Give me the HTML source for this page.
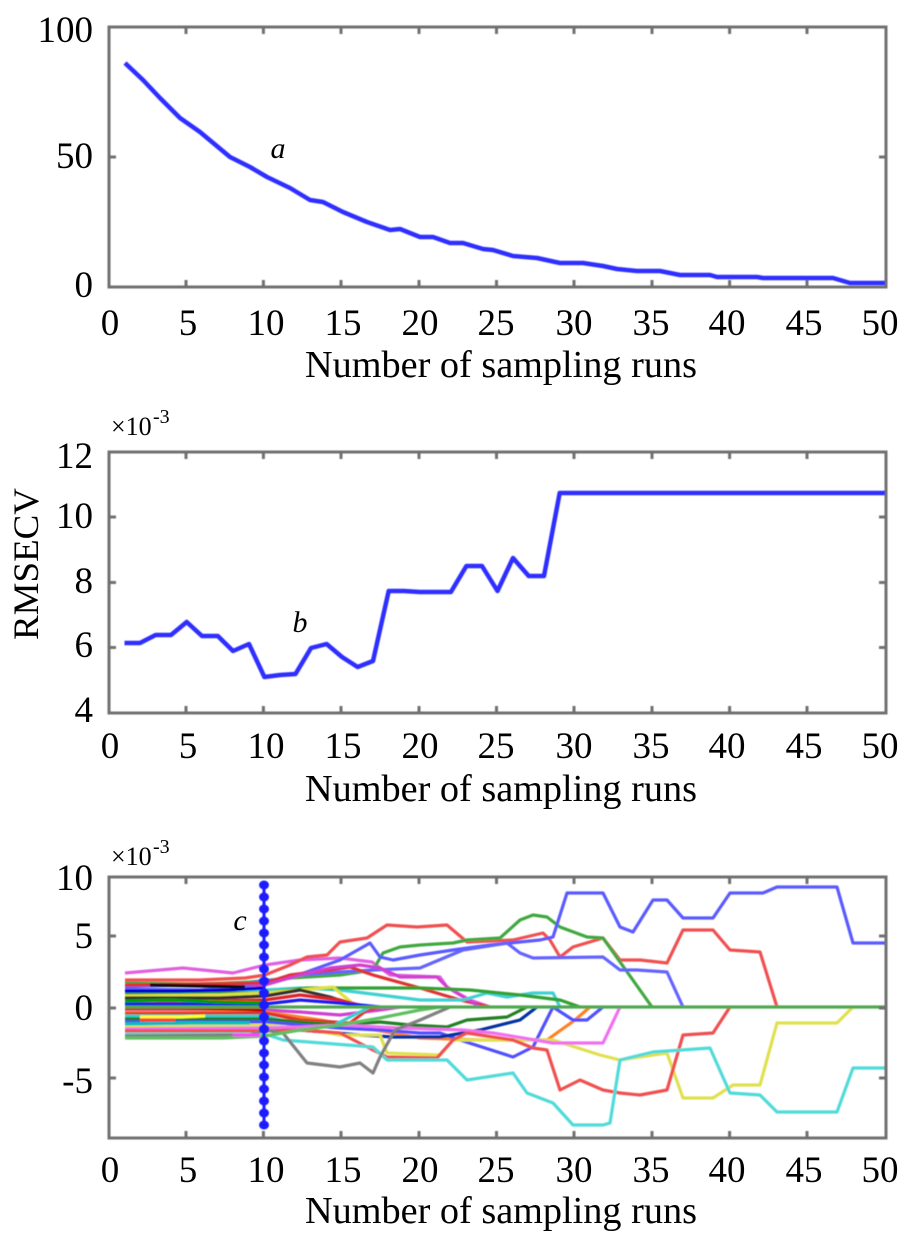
<!DOCTYPE html>
<html><head><meta charset="utf-8">
<style>
html,body{margin:0;padding:0;background:#fff;}
svg{display:block;}
text{font-family:"Liberation Serif","Times New Roman",serif;fill:#000;}
</style></head>
<body>
<svg width="900" height="1236" viewBox="0 0 900 1236" xmlns="http://www.w3.org/2000/svg">
<defs>
<filter id="bl" x="-5%" y="-5%" width="110%" height="110%"><feGaussianBlur stdDeviation="0.6"/></filter>
<clipPath id="c3"><rect x="110" y="878" width="775" height="259"/></clipPath>
</defs>
<rect width="900" height="1236" fill="#fff"/>

<!-- ============ TOP PLOT ============ -->
<g stroke="#707070" stroke-width="3" fill="none" filter="url(#bl)">
<rect x="109" y="27" width="777" height="260"/>
<path d="M186 287v-7M263.4 287v-7M341 287v-7M419 287v-7M496.5 287v-7M574 287v-7M652 287v-7M729.6 287v-7M807 287v-7
M186 27v7M263.4 27v7M341 27v7M419 27v7M496.5 27v7M574 27v7M652 27v7M729.6 27v7M807 27v7
M109 157h7M886 157h-7"/>
</g>
<polyline fill="none" stroke="#2f2fff" stroke-width="4.5" stroke-linejoin="round" filter="url(#bl)"
points="125,63 143,80 160,98 180,118 200,132 230,157 250,167 267,177 290,188 310,200 323,202 343,212 367,222 390,230 400,229 420,237 433,237 450,243 463,243 483,249 493,250 513,256 537,258 560,263 583,263 603,266 617,269 637,271 660,271 680,275 710,275 717,277 757,277 763,278 833,278 850,283 885,283"/>
<g font-size="37" text-anchor="end">
<text x="93" y="42">100</text>
<text x="93" y="168">50</text>
<text x="93" y="297">0</text>
</g>
<g font-size="37" text-anchor="middle">
<text x="110" y="335">0</text><text x="188" y="335">5</text><text x="266" y="335">10</text><text x="343" y="335">15</text><text x="420" y="335">20</text><text x="496" y="335">25</text><text x="574" y="335">30</text><text x="651" y="335">35</text><text x="727" y="335">40</text><text x="804" y="335">45</text><text x="880" y="335">50</text>
</g>
<text x="501" y="377" font-size="38" text-anchor="middle" textLength="392" lengthAdjust="spacingAndGlyphs">Number of sampling runs</text>
<text x="278" y="158" font-size="30" font-style="italic" text-anchor="middle">a</text>

<!-- ============ MIDDLE PLOT ============ -->
<g stroke="#707070" stroke-width="3" fill="none" filter="url(#bl)">
<rect x="109" y="452" width="777" height="261"/>
<path d="M186 713v-7M263.4 713v-7M341 713v-7M419 713v-7M496.5 713v-7M574 713v-7M652 713v-7M729.6 713v-7M807 713v-7
M186 452v7M263.4 452v7M341 452v7M419 452v7M496.5 452v7M574 452v7M652 452v7M729.6 452v7M807 452v7
M109 517h7M109 582.5h7M109 647.5h7M886 517h-7M886 582.5h-7M886 647.5h-7"/>
</g>
<polyline fill="none" stroke="#2f2fff" stroke-width="4.5" stroke-linejoin="round" filter="url(#bl)"
points="124.5,643 140,643 155.6,635 171,635 186.7,622 202,636 217.8,636 233,651 249,644 264.4,677 280,675 295.5,674 311,648 326.6,644 342,657 357.6,667 373,661 388.7,591 404,591 419.8,592 435,592 450.9,592 466.4,566 482,566 497.5,591 513,558 528.7,576 544,576 559.7,493 885,493"/>
<g font-size="37" text-anchor="end">
<text x="93" y="468">12</text>
<text x="93" y="528">10</text>
<text x="93" y="593">8</text>
<text x="93" y="657">6</text>
<text x="93" y="722">4</text>
</g>
<g font-size="37" text-anchor="middle">
<text x="110" y="758">0</text><text x="188" y="758">5</text><text x="266" y="758">10</text><text x="343" y="758">15</text><text x="420" y="758">20</text><text x="496" y="758">25</text><text x="574" y="758">30</text><text x="651" y="758">35</text><text x="727" y="758">40</text><text x="804" y="758">45</text><text x="880" y="758">50</text>
</g>
<text x="501" y="801" font-size="38" text-anchor="middle" textLength="392" lengthAdjust="spacingAndGlyphs">Number of sampling runs</text>
<text x="111" y="435" font-size="26">×10</text>
<text x="153" y="423" font-size="20">-3</text>
<text transform="translate(38,564) rotate(-90)" font-size="36" text-anchor="middle" textLength="152" lengthAdjust="spacingAndGlyphs">RMSECV</text>
<text x="300" y="632" font-size="30" font-style="italic" text-anchor="middle">b</text>

<!-- ============ BOTTOM PLOT ============ -->
<g clip-path="url(#c3)" fill="none" stroke-width="3.2" stroke-linejoin="round" filter="url(#bl)">
<polyline stroke="#e060e0" points="125,973 183,968 233,973 265,965 300,960 340,958 372,962 390,975 440,977 447,987 470,1000 490,1007"/>
<polyline stroke="#f05050" points="125,980 200,980 245,978 265,975 290,965 307,957 327,955 340,942 367,938 387,925 417,927 447,925 467,942 513,940 543,933 550,940 560,957 573,947 603,938 620,960 640,960 667,963 683,930 713,930 730,950 760,952 777,1007"/>
<polyline stroke="#40a840" points="125,983 200,984 250,982 290,978 340,975 373,970 383,953 400,947 420,945 453,943 467,940 500,938 520,920 533,915 547,917 560,927 587,937 603,938 652,1007"/>
<polyline stroke="#5a5aff" points="125,986 200,985 250,983 290,978 340,960 370,943 380,957 393,960 420,955 453,950 490,945 540,940 553,937 567,893 603,893 620,927 633,932 653,900 667,900 683,918 713,918 730,893 763,893 777,887 837,887 853,943 886,943"/>
<polyline stroke="#6464ff" points="125,989 200,990 260,985 300,975 340,972 373,970 420,968 463,950 507,943 520,953 533,958 603,957 620,970 637,970 667,972 683,1007"/>
<polyline stroke="#e03030" points="125,985 265,983 290,975 330,970 350,967 373,975 420,988 460,1000 490,1007"/>
<polyline stroke="#d040d0" points="125,1000 200,999 265,985 300,975 330,968 360,965 380,968 400,977 437,977 447,987 480,1007"/>
<polyline stroke="#40d0d0" points="125,992 220,992 265,990 300,988 340,990 380,995 420,1000 463,1000 487,993 507,997 533,993 553,993 560,1007"/>
<polyline stroke="#30a030" points="125,994 265,993 307,988 420,988 470,990 520,995 560,1000 580,1007"/>
<polyline stroke="#e0e040" points="125,996 220,995 265,993 300,990 333,987 357,1007"/>
<polyline stroke="#303030" points="125,998 220,998 265,996 300,990 330,997 360,1007"/>
<polyline stroke="#e02020" points="125,1002 220,1001 265,1000 300,995 340,1000 367,1007"/>
<polyline stroke="#1a1af0" points="125,1004 265,1004 300,1000 340,1003 380,1007"/>
<polyline stroke="#d040d0" points="125,1010 265,1010 300,1012 340,1015 380,1010 400,1007"/>
<polyline stroke="#ff8020" points="125,1012 265,1012 320,1020 420,1038 480,1040 547,1040 575,1020 590,1007"/>
<polyline stroke="#e03030" points="125,1014 265,1013 300,1020 350,1023 367,1010 380,1007"/>
<polyline stroke="#30d0d0" points="125,1016 265,1016 300,1025 330,1027 360,1012 370,1007"/>
<polyline stroke="#208020" points="125,1019 265,1019 300,1022 340,1025 380,1022 410,1025 447,1027 467,1020 507,1017 527,1007"/>
<polyline stroke="#5050ff" points="125,1022 265,1022 300,1025 340,1028 380,1030 420,1033 440,1033 460,1040 513,1057 533,1047 553,1007 573,1020 587,1020 603,1007"/>
<polyline stroke="#0030a0" points="125,1025 265,1026 300,1030 360,1035 393,1037 440,1037 480,1030 520,1020 537,1007"/>
<polyline stroke="#e0e050" points="125,1027 265,1025 300,1028 340,1035 380,1035 387,1053 440,1055 453,1040 553,1040 600,1055 620,1060 667,1053 683,1098 713,1098 733,1085 760,1085 777,1023 837,1023 853,1007"/>
<polyline stroke="#f070f0" points="125,1029 265,1028 300,1027 340,1025 400,1028 463,1030 493,1033 553,1043 603,1043 620,1007"/>
<polyline stroke="#f05050" points="125,1031 265,1031 300,1030 340,1033 373,1050 387,1057 437,1058 453,1040 467,1033 513,1040 533,1048 547,1050 560,1090 580,1080 603,1090 620,1093 640,1095 667,1090 683,1035 713,1033 730,1007"/>
<polyline stroke="#50dada" points="125,1034 265,1034 283,1040 373,1047 387,1060 447,1060 467,1080 513,1073 527,1093 553,1103 573,1125 603,1125 610,1123 620,1060 653,1052 710,1048 730,1093 760,1095 777,1112 837,1112 853,1068 886,1068"/>
<polyline stroke="#808080" points="125,1036 250,1035 265,1030 283,1033 307,1063 340,1067 360,1063 373,1073 380,1057 395,1030 420,1020 450,1007"/>
<polyline stroke="#60c060" points="125,1038 223,1038 265,1036 300,1030 340,1025 380,1018 420,1010 440,1007"/>
<polyline stroke="#0000d0" points="125,991 180,991 230,990 265,988"/>
<polyline stroke="#c00000" points="125,1008 180,1008 230,1009 265,1010"/>
<polyline stroke="#00a000" points="125,1001 170,1000 220,1002 265,1003"/>
<polyline stroke="#ffff30" points="140,1017 180,1017 205,1016"/>
<polyline stroke="#101010" points="150,985 200,986 245,987"/>
<polyline stroke="#00c0c0" points="125,1024 190,1023 250,1023"/>
<polyline stroke="#ff40ff" points="233,1035 260,1035"/>
<polyline stroke="#ff4040" points="140,1020 175,1020"/>
<polyline stroke="#50a850" points="125,1007 886,1007"/>
</g>
<g fill="#1a1aff" filter="url(#bl)">
<line x1="264" y1="885" x2="264" y2="1127" stroke="#1a1aff" stroke-width="3"/>
<ellipse cx="264" cy="885" rx="5" ry="4.5"/><ellipse cx="264" cy="897" rx="5" ry="4.5"/><ellipse cx="264" cy="909" rx="5" ry="4.5"/><ellipse cx="264" cy="921" rx="5" ry="4.5"/><ellipse cx="264" cy="933" rx="5" ry="4.5"/><ellipse cx="264" cy="945" rx="5" ry="4.5"/><ellipse cx="264" cy="957" rx="5" ry="4.5"/><ellipse cx="264" cy="969" rx="5" ry="4.5"/><ellipse cx="264" cy="981" rx="5" ry="4.5"/><ellipse cx="264" cy="993" rx="5" ry="4.5"/><ellipse cx="264" cy="1005" rx="5" ry="4.5"/><ellipse cx="264" cy="1017" rx="5" ry="4.5"/><ellipse cx="264" cy="1029" rx="5" ry="4.5"/><ellipse cx="264" cy="1041" rx="5" ry="4.5"/><ellipse cx="264" cy="1053" rx="5" ry="4.5"/><ellipse cx="264" cy="1065" rx="5" ry="4.5"/><ellipse cx="264" cy="1077" rx="5" ry="4.5"/><ellipse cx="264" cy="1089" rx="5" ry="4.5"/><ellipse cx="264" cy="1101" rx="5" ry="4.5"/><ellipse cx="264" cy="1113" rx="5" ry="4.5"/><ellipse cx="264" cy="1125" rx="5" ry="4.5"/>
</g>
<g stroke="#707070" stroke-width="3" fill="none" filter="url(#bl)">
<rect x="109" y="877" width="777" height="261"/>
<path d="M186 1138v-7M263.4 1138v-7M341 1138v-7M419 1138v-7M496.5 1138v-7M574 1138v-7M652 1138v-7M729.6 1138v-7M807 1138v-7
M186 877v7M341 877v7M419 877v7M496.5 877v7M574 877v7M652 877v7M729.6 877v7M807 877v7
M109 936h7M109 1008h7M109 1078h7M886 936h-7M886 1008h-7M886 1078h-7"/>
</g>
<g font-size="37" text-anchor="end">
<text x="93" y="890">10</text>
<text x="93" y="948">5</text>
<text x="93" y="1020">0</text>
<text x="93" y="1093">-5</text>
</g>
<g font-size="37" text-anchor="middle">
<text x="110" y="1182">0</text><text x="188" y="1182">5</text><text x="266" y="1182">10</text><text x="343" y="1182">15</text><text x="420" y="1182">20</text><text x="496" y="1182">25</text><text x="574" y="1182">30</text><text x="651" y="1182">35</text><text x="727" y="1182">40</text><text x="804" y="1182">45</text><text x="880" y="1182">50</text>
</g>
<text x="501" y="1223" font-size="38" text-anchor="middle" textLength="392" lengthAdjust="spacingAndGlyphs">Number of sampling runs</text>
<text x="111" y="865" font-size="26">×10</text>
<text x="153" y="853" font-size="20">-3</text>
<text x="240" y="930" font-size="30" font-style="italic" text-anchor="middle">c</text>
</svg>
</body></html>
